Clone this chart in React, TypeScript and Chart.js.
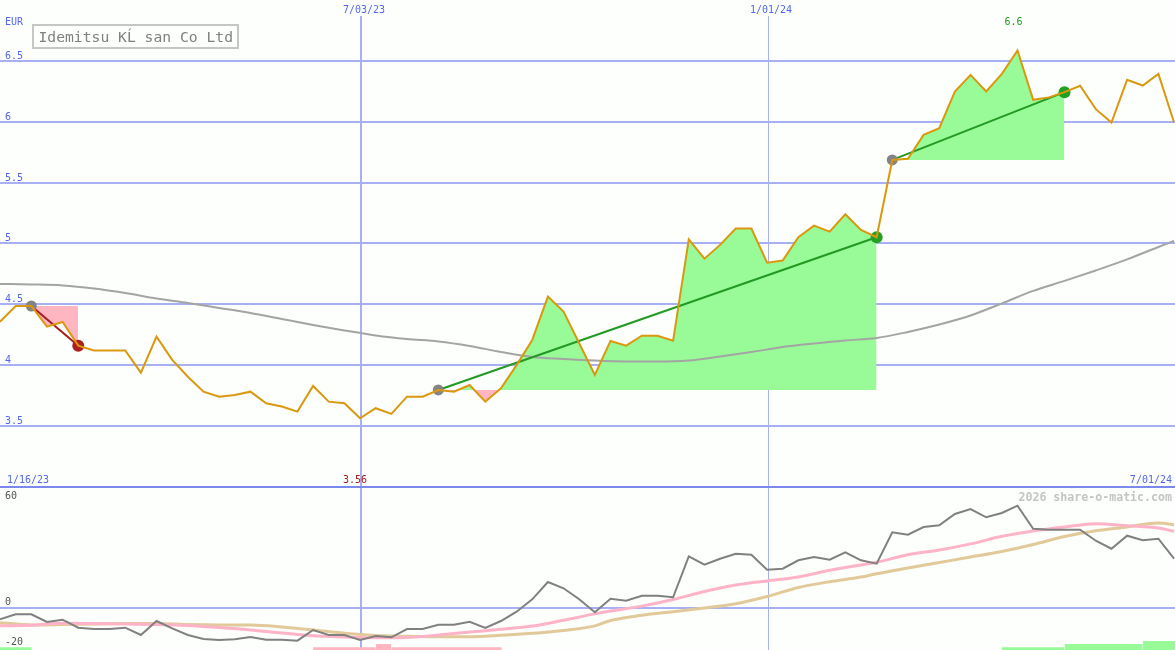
import React, { useEffect, useRef } from 'react';
import { Chart, registerables } from 'chart.js';
Chart.register(...registerables);

// ---------- data ----------
const TITLE = 'Idemitsu KĹ san Co Ltd';
const CURRENCY = 'EUR';
const WATERMARK = '2026 share-o-matic.com';

// weekly closing prices (EUR), one per week
const price = [
  4.357, 4.486, 4.486, 4.316, 4.355, 4.16, 4.12, 4.12, 4.12, 3.938,
  4.234, 4.043, 3.905, 3.782, 3.741, 3.755, 3.782, 3.687, 3.66, 3.618,
  3.829, 3.70, 3.687, 3.563, 3.646, 3.60, 3.741, 3.741, 3.796, 3.782,
  3.837, 3.70, 3.81, 4.0, 4.207, 4.563, 4.44, 4.18, 3.919, 4.199,
  4.16, 4.242, 4.242, 4.201, 5.034, 4.875, 4.988, 5.122, 5.122, 4.842,
  4.859, 5.051, 5.146, 5.097, 5.24, 5.111, 5.051, 5.686, 5.695, 5.892,
  5.947, 6.248, 6.385, 6.248, 6.393, 6.585, 6.18, 6.20, 6.243, 6.295,
  6.103, 5.993, 6.344, 6.297, 6.393, 5.993,
];

// long moving average (week index, value)
const maWeeks = [0, 2, 4, 6, 8, 10, 12, 14, 16, 18, 20, 22, 24, 26, 28, 30, 32, 34, 36, 38,
  40, 42, 44, 46, 48, 50, 52, 54, 56, 58, 60, 62, 64, 66, 68, 70, 72, 74, 75];
const maValues = [4.667, 4.663, 4.655, 4.630, 4.593, 4.548, 4.511, 4.470, 4.429, 4.379,
  4.330, 4.285, 4.244, 4.215, 4.195, 4.158, 4.108, 4.067, 4.051, 4.038,
  4.030, 4.029, 4.038, 4.071, 4.108, 4.149, 4.178, 4.203, 4.223, 4.273,
  4.334, 4.408, 4.507, 4.610, 4.692, 4.778, 4.869, 4.971, 5.021];

const xTickLabels = ['7/03/23', '1/01/24'];
const xTickWeeks = [23.06, 49.06];
const xTickWidths = [2, 1];
const xStartLabel = '1/16/23';
const xEndLabel = '7/01/24';
const X_MAX = 75.06;

const yTicks = [3.5, 4, 4.5, 5, 5.5, 6, 6.5];
const maxLabel = '6.6';
const minLabel = '3.56';

// trades (week index of entry and exit)
const tradeEntry = [2, 28, 57];
const tradeExit = [5, 56, 68];

// lower panel: oscillator and its averages
const momentum = [
  -5.9, -3.4, -3.4, -7.25, -6.1, -10.1, -10.75, -10.75, -10.1, -13.75,
  -6.75, -10.4, -13.75, -15.75, -16.25, -15.9, -14.75, -16.1, -16.1, -16.6,
  -11.25, -13.75, -13.75, -16.25, -14.25, -14.9, -10.75, -10.75, -8.6, -8.6,
  -7.1, -10.25, -6.75, -2.1, 4.1, 12.75, 9.6, 4.1, -2.4, 4.4,
  3.4, 5.9, 5.9, 5.1, 25.6, 21.4, 24.4, 26.9, 26.4, 18.9,
  19.4, 23.6, 25.25, 23.9, 27.6, 23.6, 21.9, 37.6, 36.4, 40.25,
  41.1, 46.75, 49.25, 45.1, 47.25, 50.9, 39.4, 38.9, 38.9, 38.9,
  33.4, 29.4, 35.9, 33.6, 34.4, 24.4,
];
const avgWeeks = [0, 2, 4, 6, 8, 10, 12, 14, 16, 18, 20, 22, 24, 26, 28, 30, 32, 34, 36, 38,
  39, 41, 43, 45, 47, 49, 51, 53, 55, 56, 58, 60, 62, 64, 66, 68, 70, 72, 74, 75];
const pinkValues = [-9.1, -8.9, -7.9, -8.0, -8.3, -8.5, -9.0, -10.0, -11.2, -12.7,
  -14.1, -14.7, -15.1, -15.0, -13.7, -12.3, -10.9, -9.3, -6.4, -3.2,
  -1.8, 0.7, 4.0, 8.0, 11.2, 13.3, 15.3, 18.6, 21.3, 22.6,
  26.4, 28.7, 31.8, 35.6, 38.3, 40.3, 41.9, 40.9, 39.75, 38.1];
const tanValues = [-7.6, -8.7, -8.5, -8.25, -8.0, -8.0, -8.5, -8.7, -8.75, -9.7,
  -11.2, -12.9, -14.0, -14.4, -14.6, -14.6, -13.9, -12.9, -11.5, -9.2,
  -6.5, -3.9, -2.1, -0.3, 1.9, 5.5, 10.0, 12.9, 15.2, 16.9,
  19.75, 22.5, 25.2, 28.0, 31.5, 35.5, 38.4, 40.3, 42.25, 41.4];

const oscTicks = [60, 0, -20];
const OSC_MIN = -21.25;
const OSC_MAX = 60.75;

// histogram strips at the foot of the lower panel
const histStart = [0, 20, 24, 25, 64, 68, 73];
const histEnd = [2.03, 24, 25, 32.05, 68, 73, 75.06];
const histHeight = [1.35, 1.35, 3, 1.35, 1.35, 3, 4.5];
const histPositive = [true, false, false, false, true, true, true];

// ---------- styles ----------
const BG = '#fcfffc';
const GRID = '#a6b0f2';
const SEP = '#7b89ee';
const TICK = '#5566ee';
const MONO = '"DejaVu Sans Mono", monospace';
const ORANGE = '#da980f';
const GREEN_FILL = '#98fb98';
const PINK_FILL = '#ffb6c1';
const WIN = '#229922';
const LOSS = '#a51c1c';

const TOP_H = 486;
const BOT_H = 164;
const W = 1175;

const pts = (xs: number[], ys: number[]) => xs.map((x, i) => ({ x, y: ys[i] }));

export default function App() {
  const topRef = useRef<HTMLCanvasElement | null>(null);
  const botRef = useRef<HTMLCanvasElement | null>(null);

  useEffect(() => {
    const weeks = price.map((_, i) => i);
    const pricePts = pts(weeks, price);

    const fillSets = tradeEntry.map((e, k) => ({
      type: 'line' as const,
      data: pricePts.slice(e, tradeExit[k] + 1),
      borderWidth: 0,
      borderColor: 'rgba(0,0,0,0)',
      pointRadius: 0,
      fill: { target: { value: price[e] }, above: GREEN_FILL, below: PINK_FILL },
      order: 20,
    }));
    const trendSets = tradeEntry.map((e, k) => {
      const x = tradeExit[k];
      const win = price[x] > price[e];
      return {
        type: 'line' as const,
        data: [{ x: e, y: price[e] }, { x, y: price[x] }],
        borderColor: win ? WIN : LOSS,
        borderWidth: 2,
        pointRadius: 0,
        fill: false,
        order: 6,
      };
    });
    const entryMarks = {
      type: 'line' as const,
      data: tradeEntry.map((e) => ({ x: e, y: price[e] })),
      showLine: false,
      pointRadius: 5.5,
      pointBorderWidth: 0,
      pointBackgroundColor: '#848484',
      order: 4,
    };
    const exitMarks = {
      type: 'line' as const,
      data: tradeExit.map((x) => ({ x, y: price[x] })),
      showLine: false,
      pointRadius: 6,
      pointBorderWidth: 0,
      pointBackgroundColor: tradeExit.map((x, k) => (price[x] > price[tradeEntry[k]] ? '#22a022' : '#aa2020')),
      order: 3,
    };

    let maxI = 0, minI = 0;
    price.forEach((v, i) => { if (v > price[maxI]) maxI = i; if (v < price[minI]) minI = i; });

    const topPlugin = {
      id: 'topDecor',
      beforeDraw(chart: any) {
        const c = chart.ctx;
        c.save();
        c.fillStyle = BG;
        c.fillRect(0, 0, chart.width, chart.height);
        const xs = chart.scales.x, ys = chart.scales.y;
        c.fillStyle = GRID;
        yTicks.forEach((v) => {
          const py = Math.round(ys.getPixelForValue(v));
          c.fillRect(0, py - 1, chart.width, 2);
        });
        xTickWeeks.forEach((w, k) => {
          const px = Math.round(xs.getPixelForValue(w));
          const lw = xTickWidths[k];
          c.fillRect(px - Math.floor(lw / 2), 16, lw, chart.height - 16);
        });
        c.restore();
      },
      afterDraw(chart: any) {
        const c = chart.ctx;
        const xs = chart.scales.x, ys = chart.scales.y;
        c.save();
        c.font = `10px ${MONO}`;
        c.fillStyle = TICK;
        c.textBaseline = 'alphabetic';
        c.textAlign = 'left';
        yTicks.forEach((v) => {
          c.fillText(String(v), 5, Math.round(ys.getPixelForValue(v)) - 2);
        });
        c.fillText(CURRENCY, 5, 25);
        c.textAlign = 'center';
        xTickWeeks.forEach((w, k) => {
          c.fillText(xTickLabels[k], xs.getPixelForValue(w) + 3, 13);
        });
        c.textAlign = 'left';
        c.fillText(xStartLabel, 7, 483);
        c.textAlign = 'right';
        c.fillText(xEndLabel, 1172, 483);
        c.textAlign = 'center';
        c.fillStyle = WIN;
        c.fillText(maxLabel, xs.getPixelForValue(maxI) - 4, 25);
        c.fillStyle = LOSS;
        c.fillText(minLabel, xs.getPixelForValue(minI) - 5, 483);
        // title box
        c.fillStyle = BG;
        c.fillRect(33, 25, 205, 23);
        c.strokeStyle = '#c6c6c6';
        c.lineWidth = 2;
        c.strokeRect(33, 25, 205, 23);
        c.fillStyle = '#808080';
        c.textAlign = 'left';
        c.font = `14.7px ${MONO}`;
        c.fillText(TITLE, 38.5, 41.5);
        c.restore();
      },
    };

    const top = new Chart(topRef.current as HTMLCanvasElement, {
      type: 'line',
      data: {
        datasets: [
          ...fillSets,
          {
            type: 'line',
            data: pts(maWeeks, maValues),
            borderColor: '#a4a4a4',
            borderWidth: 2,
            pointRadius: 0,
            cubicInterpolationMode: 'monotone',
            fill: false,
            order: 8,
          },
          ...trendSets,
          entryMarks,
          exitMarks,
          {
            type: 'line',
            data: pricePts,
            borderColor: ORANGE,
            borderWidth: 2,
            pointRadius: 0,
            tension: 0,
            fill: false,
            order: 1,
          },
        ] as any,
      },
      options: {
        responsive: false,
        maintainAspectRatio: false,
        devicePixelRatio: 1,
        animation: false,
        events: [],
        layout: { padding: 0, autoPadding: false },
        plugins: { legend: { display: false }, tooltip: { enabled: false } },
        scales: {
          x: { type: 'linear', min: 0, max: X_MAX, display: false },
          y: { type: 'linear', min: 3.007, max: 7.0, display: false },
        },
      },
      plugins: [topPlugin],
    });

    const histSets = histStart.map((s, k) => ({
      type: 'line' as const,
      data: [{ x: s, y: OSC_MIN + histHeight[k] }, { x: histEnd[k], y: OSC_MIN + histHeight[k] }],
      borderWidth: 0,
      borderColor: 'rgba(0,0,0,0)',
      pointRadius: 0,
      fill: 'start',
      backgroundColor: histPositive[k] ? GREEN_FILL : PINK_FILL,
      order: 20,
    }));

    const botPlugin = {
      id: 'botDecor',
      beforeDraw(chart: any) {
        const c = chart.ctx;
        const xs = chart.scales.x, ys = chart.scales.y;
        c.save();
        c.fillStyle = BG;
        c.fillRect(0, 0, chart.width, chart.height);
        c.fillStyle = GRID;
        const p0 = Math.round(ys.getPixelForValue(0));
        c.fillRect(0, p0 - 1, chart.width, 2);
        xTickWeeks.forEach((w, k) => {
          const px = Math.round(xs.getPixelForValue(w));
          const lw = xTickWidths[k];
          c.fillRect(px - Math.floor(lw / 2), 0, lw, chart.height);
        });
        c.fillStyle = SEP;
        c.fillRect(0, 0, chart.width, 2);
        c.restore();
      },
      afterDraw(chart: any) {
        const c = chart.ctx;
        const ys = chart.scales.y;
        c.save();
        c.font = `10px ${MONO}`;
        c.fillStyle = '#555555';
        c.textAlign = 'left';
        oscTicks.forEach((v) => {
          let by = ys.getPixelForValue(v) - 2.5;
          if (by < 13) by = 13.3;
          if (by > chart.height - 4) by = chart.height - 4.5;
          c.fillText(String(v), 5, by);
        });
        c.font = `bold 11.6px ${MONO}`;
        c.fillStyle = '#c4c4c4';
        c.textAlign = 'right';
        c.fillText(WATERMARK, 1172, 14.5);
        c.restore();
      },
    };

    const bot = new Chart(botRef.current as HTMLCanvasElement, {
      type: 'line',
      data: {
        datasets: [
          ...histSets,
          {
            type: 'line',
            data: pts(avgWeeks, tanValues),
            borderColor: '#e2c99a',
            borderWidth: 3,
            pointRadius: 0,
            cubicInterpolationMode: 'monotone',
            fill: false,
            order: 5,
          },
          {
            type: 'line',
            data: pts(avgWeeks, pinkValues),
            borderColor: '#ffb3c8',
            borderWidth: 3,
            pointRadius: 0,
            cubicInterpolationMode: 'monotone',
            fill: false,
            order: 4,
          },
          {
            type: 'line',
            data: pts(weeks, momentum),
            borderColor: '#808080',
            borderWidth: 2,
            pointRadius: 0,
            tension: 0,
            fill: false,
            order: 1,
          },
        ] as any,
      },
      options: {
        responsive: false,
        maintainAspectRatio: false,
        devicePixelRatio: 1,
        animation: false,
        events: [],
        layout: { padding: 0, autoPadding: false },
        plugins: { legend: { display: false }, tooltip: { enabled: false } },
        scales: {
          x: { type: 'linear', min: 0, max: X_MAX, display: false },
          y: { type: 'linear', min: OSC_MIN, max: OSC_MAX, display: false },
        },
      },
      plugins: [botPlugin],
    });

    return () => {
      top.destroy();
      bot.destroy();
    };
  }, []);

  return (
    <div style={{ position: 'absolute', left: 0, top: 0, width: W, height: TOP_H + BOT_H, background: BG }}>
      <canvas ref={topRef} width={W} height={TOP_H} style={{ position: 'absolute', left: 0, top: 0, display: 'block' }} />
      <canvas ref={botRef} width={W} height={BOT_H} style={{ position: 'absolute', left: 0, top: TOP_H, display: 'block' }} />
    </div>
  );
}
